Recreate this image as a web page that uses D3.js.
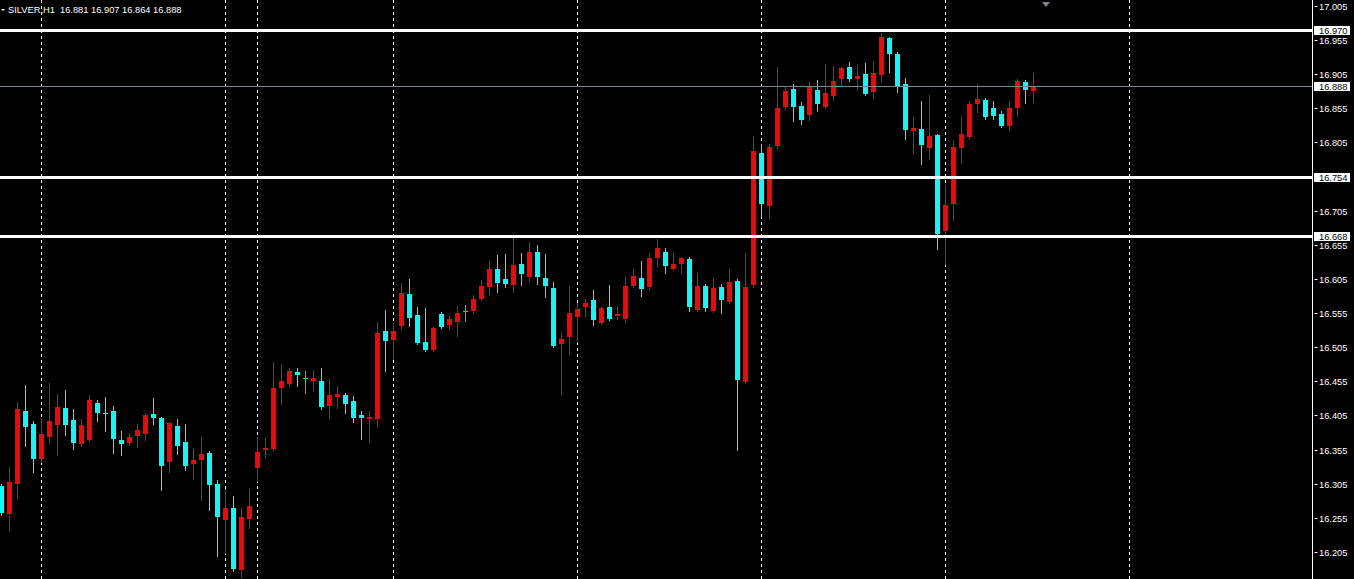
<!DOCTYPE html>
<html><head><meta charset="utf-8">
<script src="https://cdn.jsdelivr.net/npm/d3@7"></script>
<style>html,body{margin:0;padding:0;background:#000;overflow:hidden}svg{display:block}</style>
</head><body>
<svg id="c" width="1354" height="579"></svg>
<script>
const symbolTitle = "SILVER,H1";
const openP = [16.302,16.261,16.305,16.412,16.392,16.341,16.374,16.391,16.416,16.398,16.363,16.369,16.423,16.409,16.412,16.369,16.365,16.375,16.378,16.407,
16.401,16.337,16.390,16.366,16.334,16.340,16.350,16.305,16.252,16.270,16.179,16.254,16.328,16.354,16.356,16.445,16.451,16.469,16.460,16.455,
16.455,16.419,16.432,16.435,16.426,16.406,16.400,16.400,16.529,16.516,16.536,16.583,16.552,16.513,16.501,16.554,16.538,16.542,16.558,16.558,
16.576,16.593,16.620,16.605,16.596,16.627,16.609,16.645,16.606,16.592,16.509,16.520,16.550,16.564,16.574,16.541,16.564,16.550,16.547,16.595,
16.606,16.593,16.636,16.645,16.620,16.627,16.634,16.560,16.595,16.558,16.593,16.571,16.602,16.454,16.596,16.790,16.713,16.801,16.857,16.883,
16.858,16.845,16.882,16.857,16.873,16.898,16.916,16.898,16.905,16.879,16.905,16.958,16.935,16.891,16.822,16.825,16.797,16.816,16.675,16.716,
16.797,16.813,16.861,16.867,16.856,16.847,16.829,16.856,16.894,16.881];
const highP = [16.304,16.330,16.425,16.450,16.397,16.401,16.453,16.437,16.442,16.415,16.400,16.435,16.428,16.432,16.419,16.382,16.379,16.392,16.408,16.431,
16.403,16.396,16.400,16.392,16.357,16.374,16.353,16.311,16.297,16.287,16.270,16.297,16.374,16.372,16.483,16.480,16.475,16.475,16.470,16.472,
16.475,16.458,16.448,16.438,16.434,16.412,16.412,16.542,16.560,16.542,16.599,16.605,16.564,16.563,16.535,16.556,16.551,16.566,16.567,16.582,
16.604,16.631,16.640,16.642,16.671,16.643,16.659,16.655,16.642,16.601,16.527,16.595,16.570,16.576,16.589,16.564,16.596,16.566,16.608,16.620,
16.631,16.643,16.663,16.650,16.645,16.637,16.637,16.614,16.597,16.606,16.597,16.620,16.605,16.643,16.815,16.803,16.803,16.916,16.886,16.891,
16.864,16.894,16.897,16.920,16.917,16.916,16.923,16.919,16.922,16.924,16.965,16.960,16.937,16.900,16.842,16.866,16.875,16.818,16.743,16.809,
16.844,16.866,16.891,16.870,16.866,16.851,16.866,16.898,16.896,16.907];
const lowP = [16.259,16.236,16.284,16.360,16.322,16.337,16.365,16.347,16.376,16.356,16.361,16.367,16.397,16.382,16.350,16.347,16.362,16.359,16.369,16.392,
16.296,16.322,16.349,16.325,16.312,16.281,16.267,16.199,16.204,16.177,16.168,16.240,16.309,16.344,16.354,16.422,16.448,16.448,16.438,16.442,
16.415,16.401,16.416,16.409,16.396,16.371,16.366,16.390,16.470,16.488,16.532,16.536,16.510,16.499,16.499,16.533,16.532,16.522,16.544,16.555,
16.574,16.583,16.586,16.593,16.586,16.596,16.602,16.598,16.579,16.505,16.437,16.495,16.513,16.550,16.538,16.539,16.545,16.547,16.542,16.593,
16.580,16.590,16.624,16.614,16.618,16.614,16.558,16.558,16.558,16.556,16.555,16.570,16.354,16.452,16.593,16.697,16.695,16.797,16.854,16.836,
16.832,16.838,16.851,16.855,16.867,16.889,16.895,16.882,16.875,16.870,16.895,16.908,16.879,16.810,16.790,16.774,16.781,16.649,16.627,16.691,
16.775,16.811,16.850,16.839,16.839,16.828,16.823,16.844,16.863,16.864];
const closeP = [16.262,16.308,16.415,16.388,16.340,16.378,16.397,16.417,16.391,16.365,16.391,16.428,16.409,16.407,16.371,16.363,16.374,16.384,16.406,16.401,
16.331,16.394,16.360,16.331,16.340,16.349,16.303,16.256,16.270,16.180,16.256,16.273,16.351,16.357,16.445,16.455,16.470,16.464,16.460,16.460,
16.417,16.435,16.437,16.422,16.401,16.401,16.403,16.526,16.515,16.529,16.584,16.548,16.511,16.501,16.533,16.535,16.547,16.555,16.558,16.576,
16.595,16.620,16.599,16.597,16.626,16.612,16.645,16.608,16.595,16.507,16.517,16.555,16.561,16.570,16.545,16.563,16.547,16.553,16.595,16.609,
16.590,16.636,16.650,16.624,16.627,16.636,16.563,16.595,16.563,16.592,16.574,16.601,16.457,16.593,16.793,16.716,16.799,16.856,16.880,16.857,
16.838,16.886,16.861,16.878,16.895,16.914,16.898,16.902,16.876,16.907,16.960,16.935,16.888,16.823,16.826,16.801,16.815,16.671,16.713,16.799,
16.818,16.861,16.869,16.842,16.845,16.829,16.856,16.895,16.882,16.888];
const priceTicks = [17.005,16.955,16.905,16.855,16.805,16.705,16.655,16.605,16.555,16.505,16.455,16.405,16.355,16.305,16.255,16.205];
const levelLines = [16.970,16.754,16.668];
const bidPrice = 16.888;
const gridBars = [5,28,32,49,72,95,118,141];

const W = 1354, H = 579, axisX = 1312.5;
const svg = d3.select("#c");
const FONT = "'Liberation Sans', Arial, sans-serif";
svg.append("rect").attr("width",W).attr("height",H).attr("fill","#000");

const y = d3.scaleLinear().domain([16.205,17.005]).range([552,6]);
const x = d3.scaleLinear().domain([0,1]).range([1.5,9.5]);

// vertical grid
svg.append("g").selectAll("line").data(gridBars).join("line")
  .attr("x1",d=>x(d)).attr("x2",d=>x(d)).attr("y1",0).attr("y2",H)
  .attr("stroke","#fff").attr("stroke-width",1).attr("stroke-dasharray","3,3");

// candles
const data = openP.map((o,i)=>({i,o,h:highP[i],l:lowP[i],c:closeP[i]}));
const col = d => d.c>d.o ? "#ff0000" : (d.c<d.o ? "#00ffff" : "#00ff00");
const g = svg.append("g");
g.selectAll("line").data(data).join("line")
  .attr("x1",d=>x(d.i)).attr("x2",d=>x(d.i))
  .attr("y1",d=>Math.round(y(d.h))).attr("y2",d=>Math.round(y(d.l))+1)
  .attr("stroke",col).attr("stroke-width",1);
g.selectAll("rect").data(data).join("rect")
  .attr("x",d=>x(d.i)-2.5).attr("width",5)
  .attr("y",d=>Math.round(Math.min(y(d.o),y(d.c))))
  .attr("height",d=>Math.max(1,Math.round(Math.abs(y(d.o)-y(d.c)))))
  .attr("fill",col);

// bid line
svg.append("line").attr("x1",0).attr("x2",axisX).attr("y1",Math.round(y(bidPrice))+0.5).attr("y2",Math.round(y(bidPrice))+0.5)
  .attr("stroke","#778899").attr("stroke-width",1);
// level lines
svg.append("g").selectAll("line").data(levelLines).join("line")
  .attr("x1",0).attr("x2",axisX).attr("y1",d=>Math.round(y(d))+0.5).attr("y2",d=>Math.round(y(d))+0.5)
  .attr("stroke","#fff").attr("stroke-width",3);

// axis
svg.append("rect").attr("x",axisX+0.5).attr("y",0).attr("width",W-axisX).attr("height",H).attr("fill","#000");
svg.append("line").attr("x1",axisX).attr("x2",axisX).attr("y1",0).attr("y2",H).attr("stroke","#fff");
const ax = svg.append("g");
ax.selectAll("line").data(priceTicks).join("line")
  .attr("x1",axisX+2).attr("x2",axisX+5).attr("y1",d=>Math.round(y(d))+0.5).attr("y2",d=>Math.round(y(d))+0.5)
  .attr("stroke","#fff");
ax.selectAll("text").data(priceTicks).join("text")
  .attr("x",1319).attr("y",d=>Math.round(y(d))+3.5)
  .attr("fill","#fff").attr("font-family",FONT).attr("font-size","9.3px")
  .text(d=>d.toFixed(3));

// labels for level lines and bid
const labelVals = levelLines.concat([bidPrice]);
const lg = svg.append("g");
lg.selectAll("rect").data(labelVals).join("rect")
  .attr("x",1314).attr("y",d=>Math.round(y(d))-4).attr("width",36).attr("height",9)
  .attr("fill","#fff");
lg.selectAll("text").data(labelVals).join("text")
  .attr("x",1319).attr("y",d=>Math.round(y(d))+4)
  .attr("fill","#000").attr("font-family",FONT).attr("font-size","9.3px")
  .text(d=>d.toFixed(3));

// top frame line
svg.append("line").attr("x1",0).attr("x2",axisX).attr("y1",1.5).attr("y2",1.5).attr("stroke","#fff").attr("stroke-opacity",0);

// shift marker
svg.append("path").attr("d","M1042,2 L1050,2 L1046,7 Z").attr("fill","#778899");

// header
svg.append("path").attr("d","M1,9 L5,9 L3,11 Z").attr("fill","#fff");
svg.append("text").attr("x",8).attr("y",12.5).attr("fill","#fff").attr("font-family",FONT).attr("font-size","9.3px")
  .attr("xml:space","preserve")
  .text(symbolTitle + "  " + [openP[openP.length-1],highP[highP.length-1],lowP[lowP.length-1],closeP[closeP.length-1]].map(v=>v.toFixed(3)).join(" "));
</script>
</body></html>
